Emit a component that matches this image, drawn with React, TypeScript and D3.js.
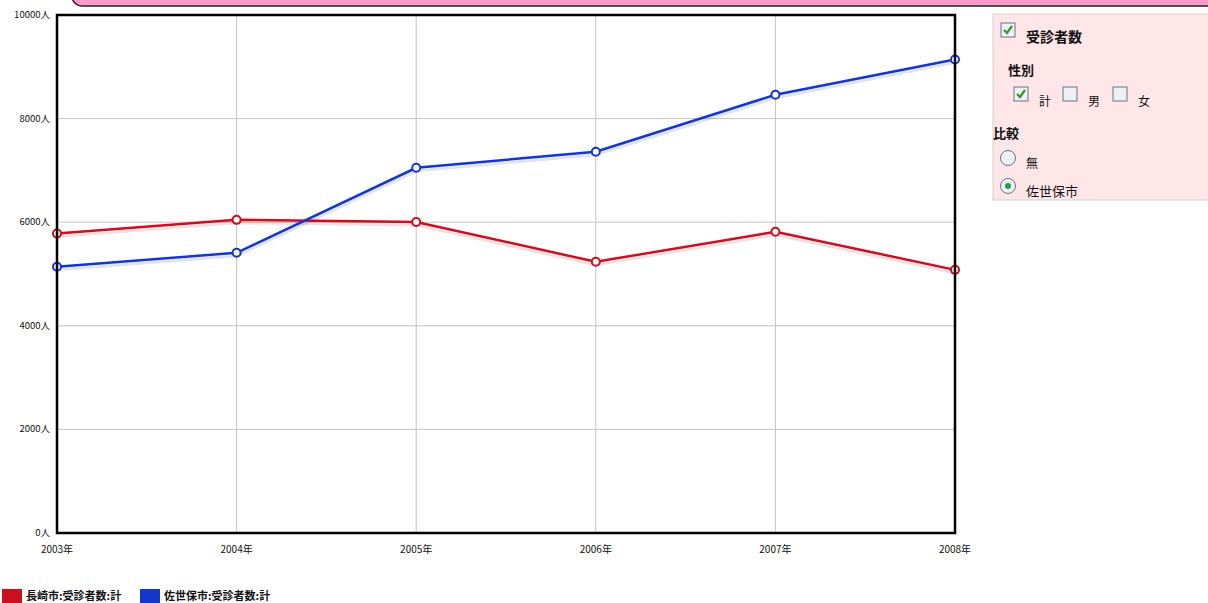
import React from "react";
import * as d3 from "d3";

const years = ["2003年", "2004年", "2005年", "2006年", "2007年", "2008年"];
const nagasaki = [5780, 6045, 6005, 5235, 5815, 5080];
const sasebo = [5140, 5410, 7050, 7360, 8460, 9140];
const yTicks = [0, 2000, 4000, 6000, 8000, 10000];
const seriesNames = ["長崎市:受診者数:計", "佐世保市:受診者数:計"];
const seriesColors = ["#c8101e", "#1537c8"];

const W = 1208, H = 603;
const L = 57, R = 955, T = 15, B = 533;
const font = "'Noto Sans CJK JP', sans-serif";

export default function App() {
  const x = d3.scalePoint<string>().domain(years).range([L, R]);
  const y = d3.scaleLinear().domain([0, 10000]).range([B, T]);
  const line = d3
    .line<number>()
    .x((_, i) => x(years[i]) as number)
    .y((d) => y(d));
  const series = [nagasaki, sasebo];

  const Check = ({ cx, cy, checked }: { cx: number; cy: number; checked: boolean }) => (
    <g>
      <rect x={cx} y={cy} width={14} height={14} fill="#eef0f6" stroke="#6a7286" strokeWidth={1} />
      {checked && (
        <path
          d={`M${cx + 3} ${cy + 7} L${cx + 6} ${cy + 10} L${cx + 11} ${cy + 3}`}
          fill="none"
          stroke="#2a9a2a"
          strokeWidth={2.2}
        />
      )}
    </g>
  );
  const Radio = ({ cx, cy, on }: { cx: number; cy: number; on: boolean }) => (
    <g>
      <circle cx={cx} cy={cy} r={7.5} fill="#eef1f6" stroke="#6a7286" strokeWidth={1} />
      {on && <circle cx={cx} cy={cy} r={3} fill="#2aa04a" />}
    </g>
  );

  return (
    <svg
      width={W}
      height={H}
      style={{ position: "absolute", left: 0, top: 0, background: "#fff" }}
      fontFamily={font}
    >
      {/* top banner */}
      <rect x={72} y={-40} width={1160} height={46} rx={10} fill="#ff99cc" stroke="#222" strokeWidth={1.5} />

      {/* grid */}
      {yTicks.map((t) => (
        <line key={"h" + t} x1={L} x2={R} y1={y(t)} y2={y(t)} stroke="#c4c4c4" strokeWidth={1} />
      ))}
      {years.map((yr) => (
        <line key={"v" + yr} x1={x(yr)} x2={x(yr)} y1={T} y2={B} stroke="#c4c4c4" strokeWidth={1} />
      ))}

      {/* lines */}
      {series.map((s, i) => (
        <g key={"s" + i}>
          <path d={line(s) || ""} fill="none" stroke={seriesColors[i]} strokeOpacity={0.14} strokeWidth={3} transform="translate(0,3)" />
          <path d={line(s) || ""} fill="none" stroke={seriesColors[i]} strokeWidth={2.5} />
          {s.map((v, j) => (
            <circle key={j} cx={x(years[j])} cy={y(v)} r={4} fill="#fff" stroke={seriesColors[i]} strokeWidth={2} />
          ))}
        </g>
      ))}

      {/* frame */}
      <rect x={L} y={T} width={R - L} height={B - T} fill="none" stroke="#000" strokeWidth={2.5} />

      {/* y labels */}
      {yTicks.map((t) => (
        <text key={"yl" + t} x={L - 7} y={y(t) + 3} fontSize={9.5} textAnchor="end" fill="#111">
          {t}人
        </text>
      ))}
      {/* x labels */}
      {years.map((yr) => (
        <text key={"xl" + yr} x={x(yr)} y={553} fontSize={10} textAnchor="middle" fill="#111">
          {yr}
        </text>
      ))}

      {/* bottom legend */}
      <rect x={2} y={589} width={20} height={16} fill={seriesColors[0]} />
      <text x={26} y={600} fontSize={11} fontWeight="bold" fill="#111">{seriesNames[0]}</text>
      <rect x={140} y={589} width={20} height={16} fill={seriesColors[1]} />
      <text x={164} y={600} fontSize={11} fontWeight="bold" fill="#111">{seriesNames[1]}</text>

      {/* control panel */}
      <rect x={993} y={14} width={230} height={186} fill="#ffe6e8" stroke="#d8d0d0" strokeWidth={1} />
      <Check cx={1001} cy={23} checked={true} />
      <text x={1026} y={42} fontSize={14} fontWeight="bold" fill="#111">受診者数</text>
      <text x={1008} y={75} fontSize={13} fontWeight="bold" fill="#111">性別</text>
      <Check cx={1014} cy={87} checked={true} />
      <text x={1039} y={106} fontSize={12} fill="#111">計</text>
      <Check cx={1063} cy={87} checked={false} />
      <text x={1088} y={106} fontSize={12} fill="#111">男</text>
      <Check cx={1113} cy={87} checked={false} />
      <text x={1138} y={106} fontSize={12} fill="#111">女</text>
      <text x={993} y={138} fontSize={13} fontWeight="bold" fill="#111">比較</text>
      <Radio cx={1008} cy={158} on={false} />
      <text x={1026} y={168} fontSize={12} fill="#111">無</text>
      <Radio cx={1008} cy={186} on={true} />
      <text x={1026} y={196} fontSize={13} fill="#111">佐世保市</text>
    </svg>
  );
}
